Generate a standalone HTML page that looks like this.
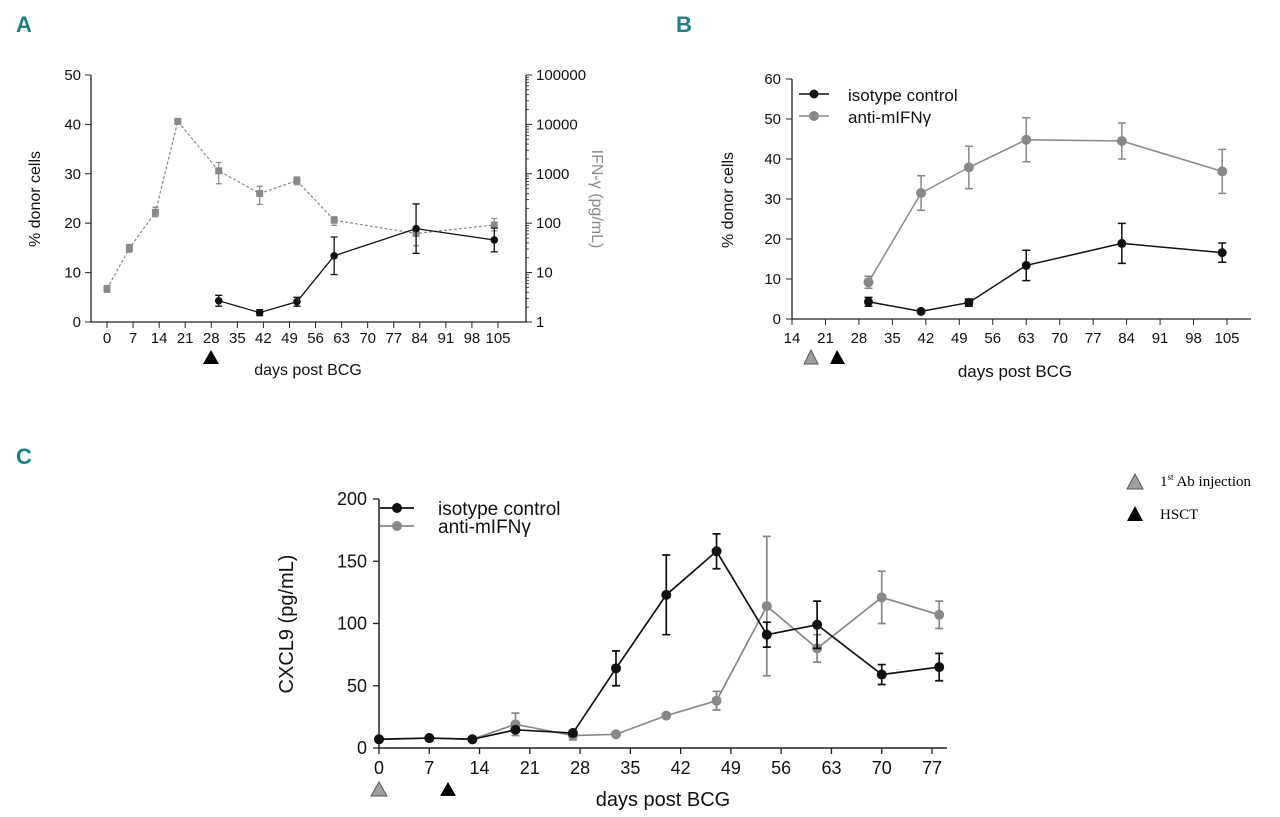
<!DOCTYPE html>
<html><head><meta charset="utf-8"><style>
body{margin:0;background:#fff;}
svg{display:block;font-family:"Liberation Sans",Arial,sans-serif;}
.pl{font-family:"Liberation Sans",sans-serif;font-weight:bold;fill:#1f7f86;font-size:22px;}
</style></head><body>
<svg id="c" width="1280" height="817" viewBox="0 0 1280 817">
<text class="pl" x="16" y="32">A</text>
<text class="pl" x="676" y="32">B</text>
<text class="pl" x="16" y="464">C</text>
<polygon points="1127,489 1143,489 1135,474" fill="#a0a0a0" stroke="#555"/>
<text x="1160" y="486" font-family="Liberation Serif,serif" font-size="15">1<tspan font-size="9" dy="-6">st</tspan><tspan dy="6"> Ab injection</tspan></text>
<polygon points="1127,521 1143,521 1135,506" fill="#000"/>
<text x="1160" y="519" font-family="Liberation Serif,serif" font-size="15">HSCT</text>
</svg>
<script>
// Panel A
const aDaysDonor=[30,41,51,61,83,104];
const aDonor=[4.3,1.9,4.1,13.4,18.9,16.6];
const aDonorErr=[1.1,0.6,0.9,3.8,5,2.4];
const aDaysIfn=[0,6,13,19,30,41,51,61,83,104];
const aIfn=[4.7,31,166,11500,1150,400,725,115,62,92];
const aIfnLo=[4,26,135,11000,630,240,600,90,35,70];
const aIfnHi=[5.5,37,210,12000,1700,560,860,135,80,125];
const aXTicks=[0,7,14,21,28,35,42,49,56,63,70,77,84,91,98,105];
const aYTicks=[0,10,20,30,40,50];
const aLogTicks=[1,10,100,1000,10000,100000];
// Panel B
const bDays=[30,41,51,63,83,104];
const bIso=[4.3,1.9,4.1,13.4,18.9,16.6];
const bIsoErr=[1.1,0.4,0.9,3.8,5,2.4];
const bAnti=[9.2,31.5,37.9,44.8,44.5,36.9];
const bAntiErr=[1.5,4.3,5.3,5.5,4.5,5.5];
const bXTicks=[14,21,28,35,42,49,56,63,70,77,84,91,98,105];
const bYTicks=[0,10,20,30,40,50,60];
// Panel C
const cDays=[0,7,13,19,27,33,40,47,54,61,70,78];
const cIso=[7,8,7,14.6,12,64,123,158,91,99,59,65];
const cIsoErr=[0,0,0,2,2,14,32,14,10,19,8,11];
const cAnti=[7,8,7,19,10,11,26,38,114,80,121,107];
const cAntiErr=[0,0,0,9,3.5,0,0,7.5,56,11,21,11];
const cXTicks=[0,7,14,21,28,35,42,49,56,63,70,77];
const cYTicks=[0,50,100,150,200];

const S=document.getElementById('c');const NS='http://www.w3.org/2000/svg';
function mk(t,a,p){const e=document.createElementNS(NS,t);for(const k in a)e.setAttribute(k,a[k]);(p||S).appendChild(e);return e;}
function txt(x,y,s,size,anchor,fill,rot){const e=mk('text',{x:x,y:y,'font-size':size,'text-anchor':anchor||'middle',fill:fill||'#111'});if(rot)e.setAttribute('transform','rotate(-90 '+x+' '+y+')');e.textContent=s;return e;}
function lin(d0,d1,p0,p1){return v=>p0+(v-d0)*(p1-p0)/(d1-d0);}

// ---- Panel A ----
const axA=lin(0,105,107,498), ayA=lin(0,50,322,75);
const alA=v=>322-Math.log10(v)*(247/5);
let e;
e=mk('line',{x1:91,y1:75,x2:91,y2:322,stroke:'#222','stroke-width':1.3});

e=mk('line',{x1:91,y1:322,x2:526,y2:322,stroke:'#222','stroke-width':1.3});

e=mk('line',{x1:526,y1:75,x2:526,y2:322,stroke:'#222','stroke-width':1.3});

aYTicks.forEach(v=>{const y=ayA(v);mk('line',{x1:85,y1:y,x2:91,y2:y,stroke:'#222'});
e=txt(81,y+5,String(v),15,'end');
});
aXTicks.forEach(v=>{const x=axA(v);mk('line',{x1:x,y1:322,x2:x,y2:328,stroke:'#222'});
e=txt(x,343,String(v),15);
});
aLogTicks.forEach((v,i)=>{const y=alA(v);mk('line',{x1:526,y1:y,x2:532,y2:y,stroke:'#222'});
e=txt(536,y+5,String(v),15,'start');

if(i<aLogTicks.length-1)for(let m=2;m<10;m++){const yy=alA(v*m);mk('line',{x1:526,y1:yy,x2:529,y2:yy,stroke:'#222','stroke-width':0.8});}});
e=txt(40,199,'% donor cells',16,'middle','#111',true);

e=txt(592,199,'IFN-γ (pg/mL)',16,'middle','#888',true);

e.setAttribute('transform','rotate(90 592 199)');
e=txt(308,375,'days post BCG',16);

e=mk('polygon',{points:'203,364 219,364 211,350',fill:'#000'});

e=mk('polyline',{points:aDaysIfn.map((d,i)=>axA(d)+','+alA(aIfn[i])).join(' '),fill:'none',stroke:'#888','stroke-width':1.2,'stroke-dasharray':'3,2'});

aDaysIfn.forEach((d,i)=>{const x=axA(d);const y1=alA(aIfnHi[i]),y2=alA(aIfnLo[i]);
mk('path',{d:`M${x},${y1}V${y2}M${x-3},${y1}h6M${x-3},${y2}h6`,stroke:'#888','stroke-width':1.2});
e=mk('rect',{x:x-3.5,y:alA(aIfn[i])-3.5,width:7,height:7,fill:'#888'});
});
e=mk('polyline',{points:aDaysDonor.map((d,i)=>axA(d)+','+ayA(aDonor[i])).join(' '),fill:'none',stroke:'#111','stroke-width':1.3});

aDaysDonor.forEach((d,i)=>{const x=axA(d);const y1=ayA(aDonor[i]+aDonorErr[i]),y2=ayA(aDonor[i]-aDonorErr[i]);
mk('path',{d:`M${x},${y1}V${y2}M${x-3.5},${y1}h7M${x-3.5},${y2}h7`,stroke:'#111','stroke-width':1.3});
e=mk('circle',{cx:x,cy:ayA(aDonor[i]),r:3.8,fill:'#111'});
});

// ---- Panel B ----
const axB=lin(14,105,792,1227), ayB=lin(0,60,319,79);
e=mk('line',{x1:792,y1:79,x2:792,y2:319,stroke:'#222','stroke-width':1.3});

e=mk('line',{x1:792,y1:319,x2:1251,y2:319,stroke:'#222','stroke-width':1.3});

bYTicks.forEach(v=>{const y=ayB(v);mk('line',{x1:786,y1:y,x2:792,y2:y,stroke:'#222'});
e=txt(781,y+5,String(v),15,'end');
});
bXTicks.forEach(v=>{const x=axB(v);mk('line',{x1:x,y1:319,x2:x,y2:325,stroke:'#222'});
e=txt(x,343,String(v),15);
});
e=txt(733,200,'% donor cells',16,'middle','#111',true);

e=txt(1015,377,'days post BCG',17);

e=mk('polygon',{points:'804,364 818,364 811,350',fill:'#a0a0a0',stroke:'#555'});

e=mk('polygon',{points:'830,364 845,364 837,350',fill:'#000'});

function series(px,py,days,vals,errs,col,name,r,w){
 e=mk('polyline',{points:days.map((d,i)=>px(d)+','+py(vals[i])).join(' '),fill:'none',stroke:col,'stroke-width':w});
 
 days.forEach((d,i)=>{const x=px(d);if(errs[i]>0){const y1=py(vals[i]+errs[i]),y2=py(vals[i]-errs[i]);
 mk('path',{d:`M${x},${y1}V${y2}M${x-4},${y1}h8M${x-4},${y2}h8`,stroke:col,'stroke-width':w});}
 e=mk('circle',{cx:x,cy:py(vals[i]),r:r,fill:col});
 });}
series(axB,ayB,bDays,bAnti,bAntiErr,'#888','b-anti-mifng',5,1.5);
series(axB,ayB,bDays,bIso,bIsoErr,'#111','b-isotype',4.5,1.5);
mk('line',{x1:799,y1:94,x2:829,y2:94,stroke:'#111','stroke-width':1.5});
mk('circle',{cx:814,cy:94,r:4.5,fill:'#111'});
e=txt(848,101,'isotype control',17,'start');

mk('line',{x1:799,y1:116,x2:829,y2:116,stroke:'#888','stroke-width':1.5});
mk('circle',{cx:814,cy:116,r:5,fill:'#888'});
e=txt(848,123,'anti-mIFNγ',17,'start');


// ---- Panel C ----
const axC=lin(0,77,379,932), ayC=lin(0,200,748,499);
e=mk('line',{x1:379,y1:499,x2:379,y2:748,stroke:'#222','stroke-width':1.5});

e=mk('line',{x1:379,y1:748,x2:947,y2:748,stroke:'#222','stroke-width':1.5});

cYTicks.forEach(v=>{const y=ayC(v);mk('line',{x1:373,y1:y,x2:379,y2:y,stroke:'#222','stroke-width':1.3});
e=txt(367,y+6,String(v),18,'end');
});
cXTicks.forEach(v=>{const x=axC(v);mk('line',{x1:x,y1:748,x2:x,y2:754,stroke:'#222','stroke-width':1.3});
e=txt(x,774,String(v),18);
});
e=txt(293,624,'CXCL9 (pg/mL)',20,'middle','#111',true);

e=txt(663,806,'days post BCG',20);

e=mk('polygon',{points:'371,796 387,796 379,782',fill:'#a0a0a0',stroke:'#555'});

e=mk('polygon',{points:'440,796 456,796 448,782',fill:'#000'});

series(axC,ayC,cDays,cAnti,cAntiErr,'#888','c-anti-mifng',5,1.7);
series(axC,ayC,cDays,cIso,cIsoErr,'#111','c-isotype',5,1.7);
mk('line',{x1:380,y1:508,x2:414,y2:508,stroke:'#111','stroke-width':1.7});
mk('circle',{cx:397,cy:508,r:5,fill:'#111'});
e=txt(438,515,'isotype control',19,'start');

mk('line',{x1:380,y1:526,x2:414,y2:526,stroke:'#888','stroke-width':1.7});
mk('circle',{cx:397,cy:526,r:5,fill:'#888'});
e=txt(438,533,'anti-mIFNγ',19,'start');

</script>
</body></html>
